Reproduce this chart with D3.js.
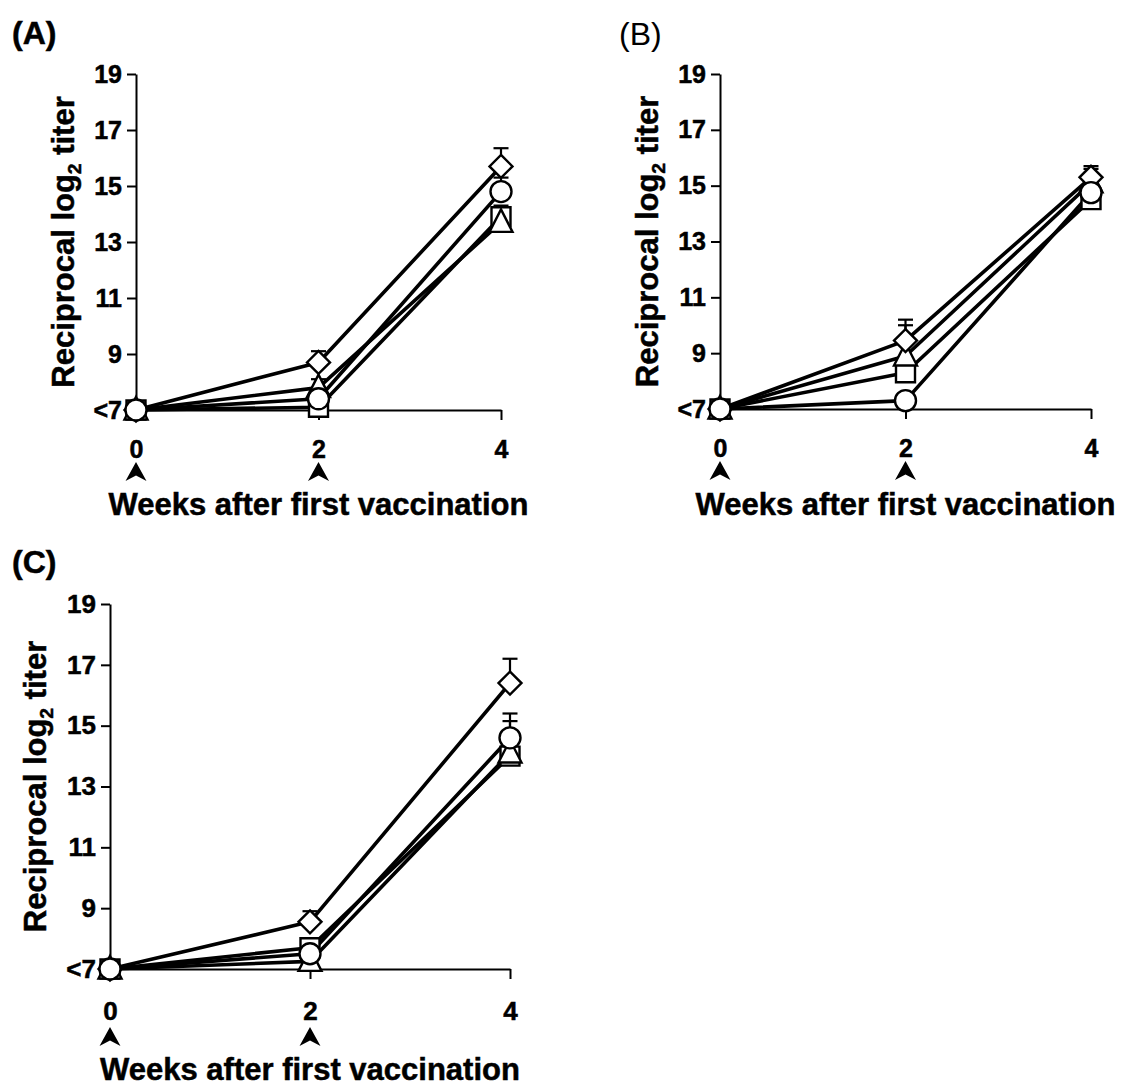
<!DOCTYPE html>
<html>
<head>
<meta charset="utf-8">
<script src="https://cdn.jsdelivr.net/npm/d3@7"></script>
<style>
  html, body { margin: 0; padding: 0; background: #fff; }
  svg { display: block; font-family: "Liberation Sans", Arial, Helvetica, sans-serif; }
  .heavy { stroke: #000; stroke-width: 0.5px; }
</style>
</head>
<body>
<svg id="chart" width="1125" height="1089"></svg>
<script>
// ---------- data ----------
const weeks = [0, 2, 4];
const xTickLabels = ["0", "2", "4"];
const yTickValues = [7, 9, 11, 13, 15, 17, 19];
const yTickLabels = ["<7", "9", "11", "13", "15", "17", "19"];
const arrowWeeks = [0, 2];          // vaccination time points
const seriesOrder = ["square", "triangle", "diamond", "circle"];

// Panel A (mean reciprocal log2 titer)
const aSquare   = [7, 7.1, 13.9];
const aTriangle = [7, 7.8, 13.7];
const aDiamond  = [7, 8.7, 15.7];
const aCircle   = [7, 7.4, 14.8];
const aSquareErr   = [0, 0, 0.4];
const aTriangleErr = [0, 0.3, 0];
const aDiamondErr  = [0, 0.4, 0.65];
const aCircleErr   = [0, 0, 0.5];

// Panel B
const bSquare   = [7, 8.3, 14.5];
const bTriangle = [7, 8.9, 15.1];
const bDiamond  = [7, 9.45, 15.3];
const bCircle   = [7, 7.3, 14.75];
const bSquareErr   = [0, 0, 0];
const bTriangleErr = [0, 1.1, 0.5];
const bDiamondErr  = [0, 0.75, 0.4];
const bCircleErr   = [0, 0, 0];

// Panel C
const cSquare   = [7, 7.7, 14.0];
const cTriangle = [7, 7.25, 14.1];
const cDiamond  = [7, 8.55, 16.4];
const cCircle   = [7, 7.5, 14.6];
const cSquareErr   = [0, 0, 0];
const cTriangleErr = [0, 0, 1.05];
const cDiamondErr  = [0, 0.35, 0.8];
const cCircleErr   = [0, 0, 0.8];

const panelLabels = ["(A)", "(B)", "(C)"];
const yTitleMain = "Reciprocal log";
const yTitleSub = "2";
const yTitleEnd = " titer";
const xTitle = "Weeks after first vaccination";

// ---------- layout ----------
const panels = [
  { label: panelLabels[0], labelWeight: "bold", labelX: 12, labelY: 44,
    x0: 136, x1: 501, yBottom: 410, yTop: 74, tickFont: 25, titleFont: 31,
    xLabPad: 20, arrowY: 472, titleY: 515, yTitleX: 74,
    data: { square: aSquare, triangle: aTriangle, diamond: aDiamond, circle: aCircle },
    err: { square: aSquareErr, triangle: aTriangleErr, diamond: aDiamondErr, circle: aCircleErr } },
  { label: panelLabels[1], labelWeight: "normal", labelX: 619, labelY: 45,
    x0: 720, x1: 1091, yBottom: 409, yTop: 74, tickFont: 25, titleFont: 31,
    xLabPad: 20, arrowY: 471, titleY: 515, yTitleX: 658,
    data: { square: bSquare, triangle: bTriangle, diamond: bDiamond, circle: bCircle },
    err: { square: bSquareErr, triangle: bTriangleErr, diamond: bDiamondErr, circle: bCircleErr } },
  { label: panelLabels[2], labelWeight: "bold", labelX: 12, labelY: 573,
    x0: 110, x1: 510, yBottom: 969, yTop: 604, tickFont: 26, titleFont: 31,
    xLabPad: 23, arrowY: 1037, titleY: 1080, yTitleX: 46,
    data: { square: cSquare, triangle: cTriangle, diamond: cDiamond, circle: cCircle },
    err: { square: cSquareErr, triangle: cTriangleErr, diamond: cDiamondErr, circle: cCircleErr } }
];

const svg = d3.select("#chart");

const symbolPath = {
  square:   "M-9.5,-9.5H9.5V9.5H-9.5Z",
  triangle: "M0,-13L11.5,9.5H-11.5Z",
  diamond:  "M0,-11.5L11.5,0L0,11.5L-11.5,0Z",
  circle:   d3.symbol().type(d3.symbolCircle).size(Math.PI * 10.5 * 10.5)()
};

panels.forEach(p => {
  const g = svg.append("g");
  const x = d3.scaleLinear().domain([0, 4]).range([p.x0, p.x1]);
  const y = d3.scaleLinear().domain([7, 19]).range([p.yBottom, p.yTop]);

  // panel label
  svg.append("text").attr("x", p.labelX).attr("y", p.labelY)
    .attr("class", p.labelWeight === "bold" ? "heavy" : null)
    .attr("font-size", 32).attr("font-weight", p.labelWeight).text(p.label);

  // y axis
  const yAxis = d3.axisLeft(y).tickValues(yTickValues)
    .tickFormat((d, i) => yTickLabels[i]).tickSize(9).tickSizeOuter(0).tickPadding(5);
  const ya = g.append("g").attr("transform", `translate(${p.x0},0)`).call(yAxis);
  ya.selectAll("path, line").attr("stroke", "#000").attr("stroke-width", 2);
  ya.selectAll("text").attr("font-size", p.tickFont).attr("font-weight", "bold")
    .attr("class", "heavy")
    .attr("fill", "#000").attr("font-family", "'Liberation Sans', Arial, sans-serif");

  // x axis
  const xAxis = d3.axisBottom(x).tickValues(weeks)
    .tickFormat((d, i) => xTickLabels[i]).tickSize(10).tickSizeOuter(0).tickPadding(p.xLabPad);
  const xa = g.append("g").attr("transform", `translate(0,${p.yBottom})`).call(xAxis);
  xa.selectAll("path, line").attr("stroke", "#000").attr("stroke-width", 2);
  xa.selectAll("text").attr("font-size", p.tickFont).attr("font-weight", "bold")
    .attr("class", "heavy")
    .attr("fill", "#000").attr("font-family", "'Liberation Sans', Arial, sans-serif");

  // vaccination arrowheads
  g.selectAll(".arrow").data(arrowWeeks).enter().append("path")
    .attr("transform", d => `translate(${x(d)},${p.arrowY})`)
    .attr("d", "M0,-10 L10.5,9 L0,3.5 L-10.5,9 Z").attr("fill", "#000");

  // y title
  const yt = g.append("text").attr("class", "heavy")
    .attr("transform", `translate(${p.yTitleX},${(p.yBottom + p.yTop) / 2}) rotate(-90)`)
    .attr("text-anchor", "middle").attr("font-size", p.titleFont).attr("font-weight", "bold");
  yt.append("tspan").text(yTitleMain);
  yt.append("tspan").attr("font-size", p.titleFont * 0.62).attr("dy", 7).text(yTitleSub);
  yt.append("tspan").attr("dy", -7).text(yTitleEnd);

  // x title
  g.append("text").attr("class", "heavy").attr("x", (p.x0 + p.x1) / 2).attr("y", p.titleY)
    .attr("text-anchor", "middle").attr("font-size", p.titleFont).attr("font-weight", "bold")
    .text(xTitle);

  // lines
  const line = d3.line().x((d, i) => x(weeks[i])).y(d => y(d));
  seriesOrder.forEach(s => {
    g.append("path").datum(p.data[s]).attr("d", line)
      .attr("fill", "none").attr("stroke", "#000").attr("stroke-width", 3.6)
      .attr("stroke-linejoin", "round");
  });

  // error bars (upper only)
  seriesOrder.forEach(s => {
    p.data[s].forEach((v, i) => {
      const e = p.err[s][i];
      if (!e) return;
      const cx = x(weeks[i]);
      g.append("line").attr("x1", cx).attr("x2", cx).attr("y1", y(v)).attr("y2", y(v + e))
        .attr("stroke", "#000").attr("stroke-width", 2.2);
      g.append("line").attr("x1", cx - 7.5).attr("x2", cx + 7.5).attr("y1", y(v + e)).attr("y2", y(v + e))
        .attr("stroke", "#000").attr("stroke-width", 2.2);
    });
  });

  // markers
  seriesOrder.forEach(s => {
    g.selectAll(".m-" + s).data(p.data[s]).enter().append("path")
      .attr("transform", (d, i) => `translate(${x(weeks[i])},${y(d)})`)
      .attr("d", symbolPath[s]).attr("fill", "#fff").attr("stroke", "#000").attr("stroke-width", 2.4);
  });
});
</script>
</body>
</html>
